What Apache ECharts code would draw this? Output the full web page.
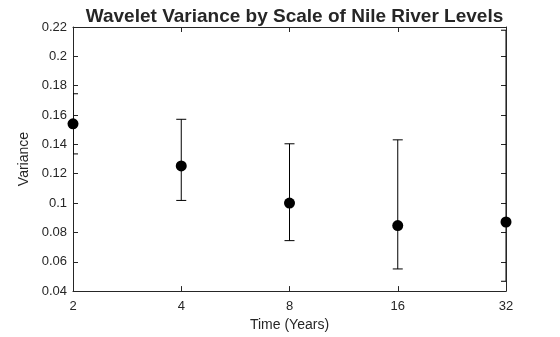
<!DOCTYPE html>
<html><head><meta charset="utf-8">
<script src="https://cdn.jsdelivr.net/npm/echarts@6/dist/echarts.min.js"></script>
<style>html,body{margin:0;padding:0;background:#fff;overflow:hidden}#c{width:560px;height:337px}</style>
</head><body><div id="c"></div>
<script>
const scales = [2, 4, 8, 16, 32];
const variance = [0.154, 0.1253, 0.100, 0.0847, 0.0871];
const lowerCI = [0.1335, 0.1018, 0.0744, 0.0551, 0.0467];
const upperCI = [0.1745, 0.1571, 0.1404, 0.1431, 0.2178];
const yTicks = [0.04, 0.22, 0.02];

const txt = '#262626';
const font = 'Liberation Sans, Arial, sans-serif';
const chart = echarts.init(document.getElementById('c'), null, {width: 560, height: 337});
const errData = scales.map((s, i) => [s, lowerCI[i], upperCI[i]]);
const ptData = scales.map((s, i) => [s, variance[i]]);

const yCommon = {
  type: 'value', min: yTicks[0], max: yTicks[1], interval: yTicks[2],
  splitLine: {show: false},
  axisLine: {show: true, lineStyle: {color: txt, width: 1}},
  axisTick: {show: true, inside: true, length: 5, lineStyle: {color: txt}}
};
const xCommon = {
  type: 'log', logBase: 2, min: 2, max: 32,
  splitLine: {show: false}, minorTick: {show: false},
  axisLine: {show: true, lineStyle: {color: txt, width: 1}},
  axisTick: {show: true, inside: true, length: 5, lineStyle: {color: txt}}
};

chart.setOption({
  animation: false,
  title: {
    text: 'Wavelet Variance by Scale of Nile River Levels',
    left: 289.5, textAlign: 'center', top: 2,
    textStyle: {fontFamily: font, fontSize: 19, fontWeight: 'bold', color: txt}
  },
  grid: {left: 73, width: 433, top: 27, height: 270},
  xAxis: [
    Object.assign({}, xCommon, {
      position: 'bottom', name: 'Time (Years)', nameLocation: 'middle', nameGap: 25,
      nameTextStyle: {fontFamily: font, fontSize: 14, color: txt},
      axisLabel: {fontFamily: font, fontSize: 13, color: txt, margin: 9}
    }),
    Object.assign({}, xCommon, {position: 'top', axisLabel: {show: false}})
  ],
  yAxis: [
    Object.assign({}, yCommon, {
      position: 'left', name: 'Variance', nameLocation: 'middle', nameGap: 38,
      nameTextStyle: {fontFamily: font, fontSize: 14, color: txt},
      axisLabel: {fontFamily: font, fontSize: 13, color: txt, margin: 6,
        formatter: v => String(+v.toFixed(2))}
    }),
    Object.assign({}, yCommon, {position: 'right', axisLabel: {show: false}})
  ],
  series: [
    {
      type: 'custom', clip: true, data: errData, z: 2,
      renderItem: function (params, api) {
        const x = api.value(0);
        const lo = api.coord([x, api.value(1)]);
        const hi = api.coord([x, api.value(2)]);
        const w = 5;
        const st = {stroke: '#000', lineWidth: 1};
        return {type: 'group', children: [
          {type: 'line', shape: {x1: lo[0], y1: lo[1], x2: hi[0], y2: hi[1]}, style: st},
          {type: 'line', shape: {x1: lo[0] - w, y1: lo[1], x2: lo[0] + w, y2: lo[1]}, style: st},
          {type: 'line', shape: {x1: hi[0] - w, y1: hi[1], x2: hi[0] + w, y2: hi[1]}, style: st}
        ]};
      }
    },
    {
      type: 'scatter', data: ptData, symbol: 'circle', symbolSize: 11, z: 3,
      itemStyle: {color: '#000', opacity: 1}
    }
  ]
});
</script></body></html>
